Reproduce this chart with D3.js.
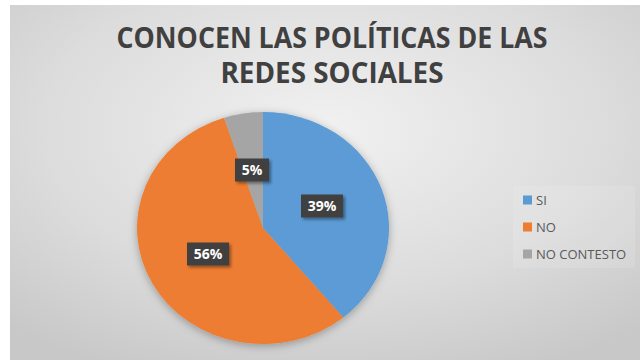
<!DOCTYPE html>
<html><head><meta charset="utf-8">
<script src="https://cdn.jsdelivr.net/npm/d3@7"></script>
<style>html,body{margin:0;padding:0;background:#fff;}svg{display:block;}</style>
</head><body>
<script>
const categories = ["SI", "NO", "NO CONTESTO"];
const values = [39, 56, 5];
const colors = ["#5b9bd5", "#ed7d31", "#a5a5a5"];
const titleLines = ["CONOCEN LAS POLÍTICAS DE LAS", "REDES SOCIALES"];

const W = 640, H = 360;
const svg = d3.select("body").append("svg").attr("width", W).attr("height", H);
const defs = svg.append("defs");
const rg = defs.append("radialGradient").attr("id", "bg").attr("cx", "50%").attr("cy", "35%").attr("r", "75%");
rg.append("stop").attr("offset", "0%").attr("stop-color", "#f1f1f1");
rg.append("stop").attr("offset", "60%").attr("stop-color", "#dcdcdc");
rg.append("stop").attr("offset", "100%").attr("stop-color", "#c8c8c8");
const sh = defs.append("filter").attr("id", "sh").attr("x", "-20%").attr("y", "-20%").attr("width", "140%").attr("height", "140%");
sh.append("feDropShadow").attr("dx", 0).attr("dy", 2).attr("stdDeviation", 4).attr("flood-color", "#000").attr("flood-opacity", 0.3);
const sh2 = defs.append("filter").attr("id", "sh2").attr("x", "-30%").attr("y", "-30%").attr("width", "160%").attr("height", "160%");
sh2.append("feDropShadow").attr("dx", 2).attr("dy", 2).attr("stdDeviation", 1.5).attr("flood-color", "#000").attr("flood-opacity", 0.4);

svg.append("rect").attr("x", 10).attr("y", 5).attr("width", W - 10).attr("height", H - 5).attr("fill", "url(#bg)");

// title
const titleWidths = [431, 223];
titleLines.forEach((t, i) => {
  svg.append("text").attr("x", 332).attr("y", 48 + i * 35)
    .attr("text-anchor", "middle")
    .attr("font-family", "'Open Sans', sans-serif").attr("font-weight", 700)
    .attr("font-size", 28).attr("fill", "#404040")
    .attr("textLength", titleWidths[i]).attr("lengthAdjust", "spacingAndGlyphs")
    .text(t);
});

// pie
const cx = 263, cy = 228, rx = 126, ry = 116;
const pie = d3.pie().sort(null).value(d => d)(values);
const arc = d3.arc().innerRadius(0).outerRadius(1);
const g = svg.append("g").attr("transform", `translate(${cx},${cy})`);
const pg = g.append("g").attr("filter", "url(#sh)");
pg.selectAll("path").data(pie).join("path")
  .attr("d", arc)
  .attr("transform", `scale(${rx},${ry})`)
  .attr("fill", (d, i) => colors[i]);

// labels
pie.forEach((d, i) => {
  const lx = [59, -55, -11][i], ly = [-22, 26, -58][i];
  const txt = values[i] + "%";
  const lg = g.append("g").attr("transform", `translate(${lx},${ly})`);
  const bw = txt.length > 2 ? 42 : 34, bh = 23;
  lg.append("rect").attr("x", -bw / 2).attr("y", -bh / 2).attr("width", bw).attr("height", bh)
    .attr("fill", "#404040").attr("filter", "url(#sh2)");
  lg.append("text").attr("text-anchor", "middle").attr("dy", "0.36em")
    .attr("font-family", "'Open Sans', sans-serif").attr("font-weight", 700)
    .attr("font-size", 14).attr("fill", "#ffffff").text(txt);
});

// legend
const legY = [200, 227, 254];
const lgd = svg.append("g");
lgd.append("rect").attr("x", 513).attr("y", 186).attr("width", 122).attr("height", 82).attr("fill", "#ffffff").attr("opacity", 0.12);
categories.forEach((c, i) => {
  lgd.append("rect").attr("x", 523).attr("y", legY[i] - 4.5).attr("width", 9).attr("height", 9).attr("fill", colors[i]);
  lgd.append("text").attr("x", 536).attr("y", legY[i]).attr("dy", "0.35em")
    .attr("font-family", "'Open Sans', sans-serif").attr("font-size", 13).attr("fill", "#595959").text(c);
});
</script>
</body></html>
